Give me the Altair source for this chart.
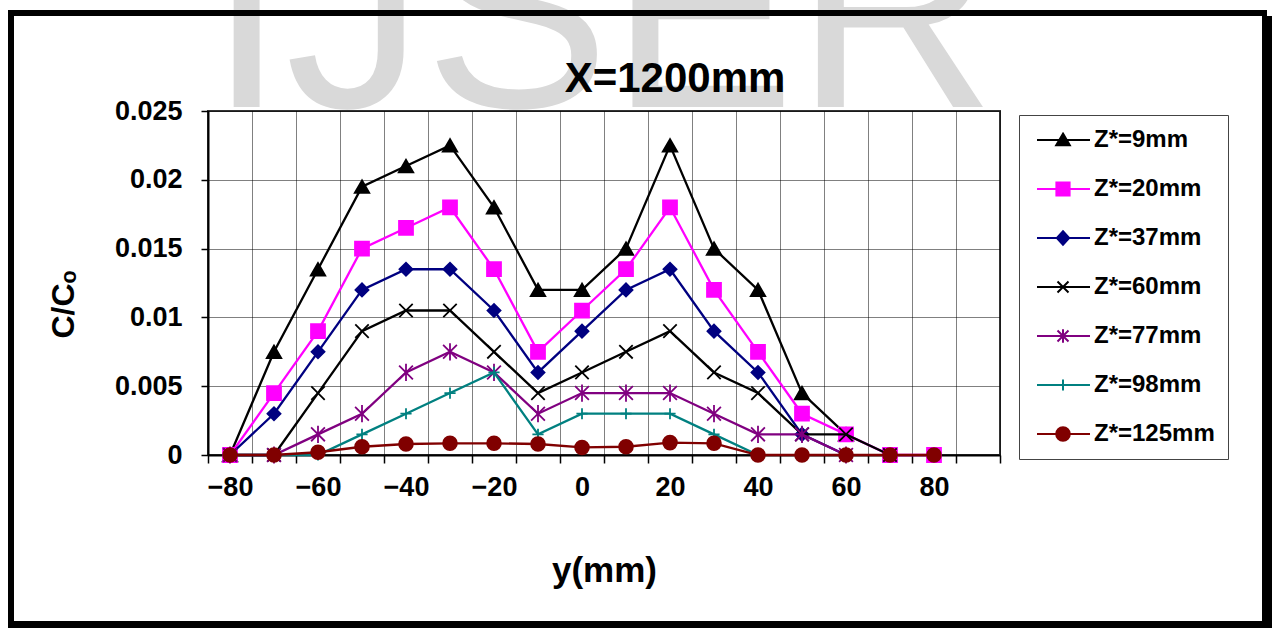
import altair as alt
import pandas as pd

# ---------------- data ----------------
y_mm = [-80, -70, -60, -50, -40, -30, -20, -10, 0, 10, 20, 30, 40, 50, 60, 70, 80]
extra_category = 90          # empty last category slot on the axis
x_tick_labels = [-80, -60, -40, -20, 0, 20, 40, 60, 80]
c_ticks = [0, 0.005, 0.01, 0.015, 0.02, 0.025]

series_names = ["Z*=9mm", "Z*=20mm", "Z*=37mm", "Z*=60mm", "Z*=77mm", "Z*=98mm", "Z*=125mm"]

z9 = [0, 0.0075, 0.0135, 0.0195, 0.021, 0.0225, 0.018, 0.012, 0.012, 0.015, 0.0225, 0.015, 0.012, 0.0045, 0.0015, None, None]
z20 = [0, 0.0045, 0.009, 0.015, 0.0165, 0.018, 0.0135, 0.0075, 0.0105, 0.0135, 0.018, 0.012, 0.0075, 0.003, 0.0015, 0, 0]
z37 = [0, 0.003, 0.0075, 0.012, 0.0135, 0.0135, 0.0105, 0.006, 0.009, 0.012, 0.0135, 0.009, 0.006, 0.0015, 0, None, None]
z60 = [0, 0, 0.0045, 0.009, 0.0105, 0.0105, 0.0075, 0.0045, 0.006, 0.0075, 0.009, 0.006, 0.0045, 0.0015, 0.0015, 0, None]
z77 = [0, 0, 0.0015, 0.003, 0.006, 0.0075, 0.006, 0.003, 0.0045, 0.0045, 0.0045, 0.003, 0.0015, 0.0015, 0, None, None]
z98 = [0, 0, 0, 0.0015, 0.003, 0.0045, 0.006, 0.0015, 0.003, 0.003, 0.003, 0.0015, 0, None, None, None, None]
z125 = [0, 0, 0.0002, 0.0006, 0.0008, 0.00085, 0.00085, 0.0008, 0.00055, 0.0006, 0.0009, 0.00085, 0, 0, 0, 0, 0]
series_values = [z9, z20, z37, z60, z77, z98, z125]

chart_title = "X=1200mm"
watermark_text = "IJSER"

# ---------------- styles ----------------
colors = ["#000000", "#FF00FF", "#000080", "#000000", "#800080", "#008080", "#800000"]
X_PATH = "M-1,-1L1,1M-1,1L1,-1"
AST_PATH = "M-1,-1L1,1M-1,1L1,-1M0,-1.25L0,1.25"
PLUS_PATH = "M-1,0L1,0M0,-1L0,1"
marker_shapes = ["triangle-up", "square", "diamond", X_PATH, AST_PATH, PLUS_PATH, "circle"]
marker_sizes = [210, 195, 170, 180, 190, 125, 190]

# legend symbols: a line segment with the marker in its middle (units of 11 px)
L0, L1, M = -0.636, 4.18, 1.727


def f(v):
    return f"{v:.3f}"


line_part = f"M{f(L0)},0H{f(L1)}"
legend_paths = [
    line_part + f"M{f(M)},-0.58L{f(M + 0.62)},0.48L{f(M - 0.62)},0.48Z",
    line_part + f"M{f(M - 0.6)},-0.6H{f(M + 0.6)}V0.6H{f(M - 0.6)}Z",
    line_part + f"M{f(M)},-0.62L{f(M + 0.56)},0L{f(M)},0.62L{f(M - 0.56)},0Z",
    line_part + f"M{f(M - 0.5)},-0.5L{f(M + 0.5)},0.5M{f(M - 0.5)},0.5L{f(M + 0.5)},-0.5",
    line_part + f"M{f(M - 0.5)},-0.5L{f(M + 0.5)},0.5M{f(M - 0.5)},0.5L{f(M + 0.5)},-0.5M{f(M)},-0.62V0.62",
    line_part + f"M{f(M)},-0.5V0.5",
    line_part + f"M{f(M - 0.62)},0A0.62,0.62,0,1,0,{f(M + 0.62)},0A0.62,0.62,0,1,0,{f(M - 0.62)},0Z",
]

FONT = "Liberation Sans"

rows = []
for name, vals in zip(series_names, series_values):
    for xv, v in zip(y_mm, vals):
        if v is not None:
            rows.append({"y_mm": xv, "c": v, "series": name})
df = pd.DataFrame(rows)

categories = y_mm + [extra_category]
boundaries = [c - 5 for c in categories] + [categories[-1] + 5]
label_list = ",".join(str(v) for v in x_tick_labels)

x_scale = alt.Scale(domain=[boundaries[0], boundaries[-1]], nice=False, zero=False)
y_scale = alt.Scale(domain=[c_ticks[0], c_ticks[-1]], nice=False)

x_axis = alt.Axis(
    values=boundaries,
    labelExpr=f"indexof([{label_list}], datum.value + 5) >= 0 ? format(datum.value + 5, 'd') : ''",
    labelOffset=22, labelFlush=False, labelOverlap=False, labelBound=False,
    labelFont=FONT, labelFontSize=27, labelFontWeight="bold", labelColor="black", labelPadding=11,
    tickSize=8, tickColor="black", tickWidth=1.5,
    domainColor="black", domainWidth=2,
    grid=True, gridColor="black", gridDash=[1, 1], gridWidth=1, gridOpacity=1,
    title="y(mm)", titleFont=FONT, titleFontSize=35, titleFontWeight="bold", titleColor="black",
    titlePadding=53,
)
y_axis = alt.Axis(
    values=c_ticks, format=".3~f",
    labelFont=FONT, labelFontSize=27, labelFontWeight="bold", labelColor="black", labelPadding=19,
    tickSize=7, tickColor="black", tickWidth=1.5,
    domainColor="black", domainWidth=2,
    grid=True, gridColor="black", gridDash=[1, 1], gridWidth=1, gridOpacity=1,
    title="C/Cₒ", titleFont=FONT, titleFontSize=32, titleFontWeight="bold", titleColor="black",
    titlePadding=34, titleY=193,
)

x_enc = alt.X("y_mm:Q", scale=x_scale, axis=x_axis)
y_enc = alt.Y("c:Q", scale=y_scale, axis=y_axis)

texts = pd.DataFrame({"t": [watermark_text], "title": [chart_title]})

# watermark
watermark = alt.Chart(texts).mark_text(
    font=FONT, fontSize=278, color="#d9d9d9", align="left", baseline="alphabetic"
).encode(x=alt.value(0), y=alt.value(-4), text="t:N")

# chart title
title_mark = alt.Chart(texts).mark_text(
    font=FONT, fontSize=42, fontWeight="bold", color="black", align="center", baseline="alphabetic"
).encode(x=alt.value(467), y=alt.value(-19), text="title:N")


# outer frame (page border with shadow)
def bar(x0, x1, y0, y1):
    return alt.Chart(texts).mark_rect(color="black").encode(
        x=alt.value(x0), x2=alt.value(x1), y=alt.value(y0), y2=alt.value(y1)
    )


frame = [
    bar(-200, 1059, -101, -95),
    bar(-200, -194, -101, 517),
    bar(1054, 1064, -95, 517),
    bar(-200, 1064, 510, 517),
]

base = alt.Chart(df)
series_layers = []
for name, col, shp, sz in zip(series_names, colors, marker_shapes, marker_sizes):
    sub = base.transform_filter(alt.datum.series == name)
    series_layers.append(
        sub.mark_line(color=col, strokeWidth=2.3).encode(x=x_enc, y=y_enc)
    )
    series_layers.append(
        sub.mark_point(shape=shp, filled=True, fill=col, stroke=col, strokeWidth=1.8,
                       size=sz, opacity=1).encode(x=x_enc, y=y_enc)
    )

# colour lookup used by the legend symbols (legend datum carries the series in datum.value)
color_expr = ""
for n, c in zip(series_names, colors):
    color_expr += f"datum.value === '{n}' ? '{c}' : "
color_expr += "'black'"

legend_layer = base.transform_filter("false").mark_point(
    filled=True, opacity=1, strokeWidth=2,
    fill=alt.ExprRef(color_expr), stroke=alt.ExprRef(color_expr),
).encode(
    x=x_enc, y=y_enc,
    shape=alt.Shape(
        "series:N",
        scale=alt.Scale(domain=series_names, range=legend_paths),
        legend=alt.Legend(
            title=None, orient="none", legendX=811, legendY=4,
            padding=13, strokeColor="#444444", fillColor="white",
            symbolSize=484, symbolStrokeWidth=2,
            labelFont=FONT, labelFontSize=24, labelFontWeight="bold", labelColor="black",
            labelOffset=38, rowPadding=25, labelLimit=400,
        ),
    ),
)

chart = alt.layer(
    watermark, *frame, *series_layers, legend_layer, title_mark
).properties(
    width=792, height=344,
    padding={"left": 208, "top": 111, "right": 276, "bottom": 173},
    autosize=alt.AutoSizeParams(type="none"),
).configure(background="white").configure_view(stroke="#333333", strokeWidth=2)

chart.save("out.html", embed_options={"renderer": "svg", "actions": False})
